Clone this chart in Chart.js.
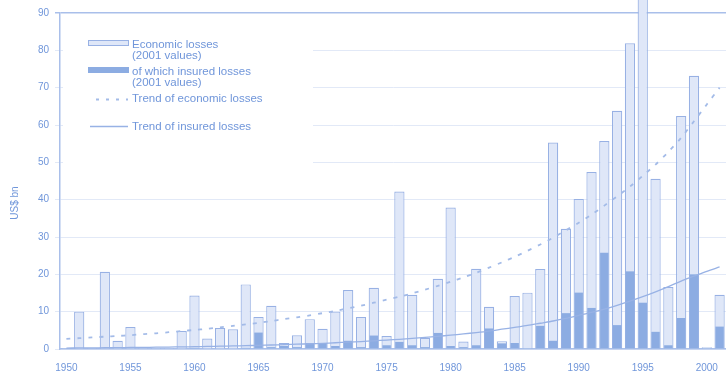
<!DOCTYPE html>
<html>
<head>
<meta charset="utf-8">
<script src="https://cdn.jsdelivr.net/npm/chart.js@4.4.1/dist/chart.umd.min.js"></script>
<style>
  html, body { margin: 0; padding: 0; background: #fff; }
  #wrap { position: relative; width: 726px; height: 377px; }
</style>
</head>
<body>
<div id="wrap"><canvas id="grafico"></canvas></div>
<script>
const anos = [
  '1950','1951','1952','1953','1954','1955','1956','1957','1958','1959',
  '1960','1961','1962','1963','1964','1965','1966','1967','1968','1969',
  '1970','1971','1972','1973','1974','1975','1976','1977','1978','1979',
  '1980','1981','1982','1983','1984','1985','1986','1987','1988','1989',
  '1990','1991','1992','1993','1994','1995','1996','1997','1998','1999',
  '2000','2001'
]

// US$ bn, 2001 values
const perdasEconomicas = [
  0.3, 10, 0.3, 20.7, 2.2, 5.9, 0.3, 0.3, 0.3, 4.8,
  14.3, 2.8, 5.6, 5.3, 17.3, 8.6, 11.6, 1.6, 3.7, 8,
  5.4, 10, 15.8, 8.6, 16.4, 3.5, 42.2, 14.5, 3, 18.8,
  37.9, 2, 21.5, 11.3, 2.1, 14.2, 15.1, 21.4, 55.3, 32.2,
  40.2, 47.4, 55.7, 63.8, 81.9, 95, 45.6, 16.6, 62.4, 73.2,
  0.5, 14.5
]

const perdasSeguradas = [
  0, 0, 0, 0, 0, 0, 0, 0, 0, 0,
  0.3, 0, 0, 0, 0.3, 4.4, 0.5, 0.8, 0.5, 1.6,
  1.6, 0.8, 2.2, 0.5, 3.6, 1, 1.9, 1, 0.5, 4.3,
  0.8, 0.5, 1, 5.5, 1.5, 1.6, 0.2, 6.2, 2.2, 9.6,
  15.1, 11, 25.8, 6.4, 20.8, 12.4, 4.6, 1, 8.3, 20,
  0.2, 6
]

const tendenciaEconomica = [
  2.7, 2.9, 3.1, 3.3, 3.5, 3.7, 4.0, 4.2, 4.5, 4.8,
  5.1, 5.4, 5.8, 6.2, 6.6, 7.0, 7.5, 8.0, 8.5, 9.0,
  9.6, 10.2, 10.9, 11.6, 12.4, 13.2, 14.0, 14.9, 15.9, 16.9,
  18.0, 19.2, 20.4, 21.8, 23.2, 24.7, 26.3, 28.0, 29.8, 31.8,
  33.8, 36.0, 38.4, 40.9, 43.5, 46.4, 49.4, 52.8, 56.6, 61.0,
  65.5, 70.0
]

const tendenciaSegurada = [
  0.25, 0.28, 0.3, 0.33, 0.36, 0.4, 0.44, 0.48, 0.52, 0.57,
  0.62, 0.68, 0.75, 0.82, 0.9, 0.98, 1.07, 1.17, 1.28, 1.4,
  1.53, 1.67, 1.83, 2.0, 2.2, 2.4, 2.6, 2.85, 3.1, 3.4,
  3.7, 4.05, 4.4, 4.8, 5.3, 5.8, 6.3, 6.9, 7.5, 8.2,
  9.0, 9.8, 10.7, 11.7, 12.8, 14.0, 15.3, 16.7, 18.2, 19.5,
  20.8, 22.0
]

const COR_TEXTO      = '#7096da'
const COR_ECON_FUNDO = '#dfe7f8'
const COR_ECON_BORDA = '#98b1e4'
const COR_SEGURADO   = '#8cace2'
const COR_GRADE      = '#e2e9f7'
const COR_EIXO       = '#a9bfea'
const COR_TENDENCIA  = '#a3bbe8'
const FONTE          = '"Liberation Sans", Arial, sans-serif'

const legendaBox = {
  id: 'legendaBox',
  beforeDatasetsDraw(chart) {
    const ctx = chart.ctx
    ctx.save()
    ctx.fillStyle = '#fff'
    ctx.fillRect(63, 20, 250, 155)

    ctx.fillStyle = COR_ECON_FUNDO
    ctx.strokeStyle = COR_ECON_BORDA
    ctx.lineWidth = 1
    ctx.fillRect(88.5, 40.5, 40, 5)
    ctx.strokeRect(88.5, 40.5, 40, 5)

    ctx.fillStyle = COR_SEGURADO
    ctx.fillRect(88, 67, 41, 6)

    ctx.strokeStyle = COR_TENDENCIA
    ctx.lineWidth = 1.8
    ctx.setLineDash([3, 7])
    ctx.beginPath(); ctx.moveTo(96, 99.5); ctx.lineTo(128, 99.5); ctx.stroke()
    ctx.setLineDash([])
    ctx.strokeStyle = '#98b2e5'
    ctx.lineWidth = 1.3
    ctx.beginPath(); ctx.moveTo(90, 126.5); ctx.lineTo(128, 126.5); ctx.stroke()

    ctx.fillStyle = COR_TEXTO
    ctx.font = '11.5px ' + FONTE
    ctx.textBaseline = 'middle'
    ctx.fillText('Economic losses', 132, 45)
    ctx.fillText('(2001 values)', 132, 56)
    ctx.fillText('of which insured losses', 132, 72)
    ctx.fillText('(2001 values)', 132, 83)
    ctx.fillText('Trend of economic losses', 132, 99)
    ctx.fillText('Trend of insured losses', 132, 127)

    // titulo do eixo y
    ctx.translate(15, 203)
    ctx.rotate(-Math.PI / 2)
    ctx.textAlign = 'center'
    ctx.font = '10px ' + FONTE
    ctx.fillText('US$ bn', 0, 0)
    ctx.restore()
  }
}

new Chart(document.getElementById('grafico'), {
  data: {
    labels: anos,
    datasets: [
      {
        type: 'line',
        label: 'Trend of economic losses',
        data: tendenciaEconomica,
        borderColor: COR_TENDENCIA,
        borderWidth: 1.8,
        borderDash: [4, 7],
        pointRadius: 0,
        tension: 0.3,
        order: 0,
      },
      {
        type: 'line',
        label: 'Trend of insured losses',
        data: tendenciaSegurada,
        borderColor: '#98b2e5',
        borderWidth: 1.3,
        pointRadius: 0,
        tension: 0.3,
        order: 1,
      },
      {
        type: 'bar',
        label: 'of which insured losses (2001 values)',
        data: perdasSeguradas,
        backgroundColor: COR_SEGURADO,
        borderWidth: 0,
        grouped: false,
        barPercentage: 0.66,
        categoryPercentage: 1,
        order: 2,
      },
      {
        type: 'bar',
        label: 'Economic losses (2001 values)',
        data: perdasEconomicas,
        backgroundColor: COR_ECON_FUNDO,
        borderColor: COR_ECON_BORDA,
        borderWidth: 1.2,
        grouped: false,
        barPercentage: 0.8,
        categoryPercentage: 1,
        clip: false,
        order: 3,
      },
    ],
  },
  options: {
    responsive: true,
    maintainAspectRatio: false,
    animation: false,
    devicePixelRatio: 1,
    layout: { padding: { top: 13, right: 0, left: 0, bottom: 0 } },
    plugins: {
      legend: { display: false },
      tooltip: { enabled: false },
    },
    scales: {
      x: {
        afterFit: s => { s.height = 28 },
        grid: { display: false },
        border: { color: COR_EIXO, width: 1.5 },
        ticks: {
          autoSkip: false,
          maxRotation: 0,
          padding: 5,
          color: COR_TEXTO,
          font: { family: FONTE, size: 10 },
          callback: (v, i) => (Number(anos[i]) % 5 === 0 ? anos[i] : ''),
        },
      },
      y: {
        min: 0,
        max: 90,
        afterFit: s => { s.width = 60 },
        border: { color: COR_EIXO, width: 1.5 },
        grid: {
          color: c => (c.tick && c.tick.value === 90 ? COR_EIXO : COR_GRADE),
          lineWidth: c => (c.tick && c.tick.value === 90 ? 1.5 : 1),
          tickLength: 5,
        },
        ticks: {
          stepSize: 10,
          padding: 6,
          color: COR_TEXTO,
          font: { family: FONTE, size: 10 },
        },
      },
    },
  },
  plugins: [legendaBox],
})
</script>
</body>
</html>
